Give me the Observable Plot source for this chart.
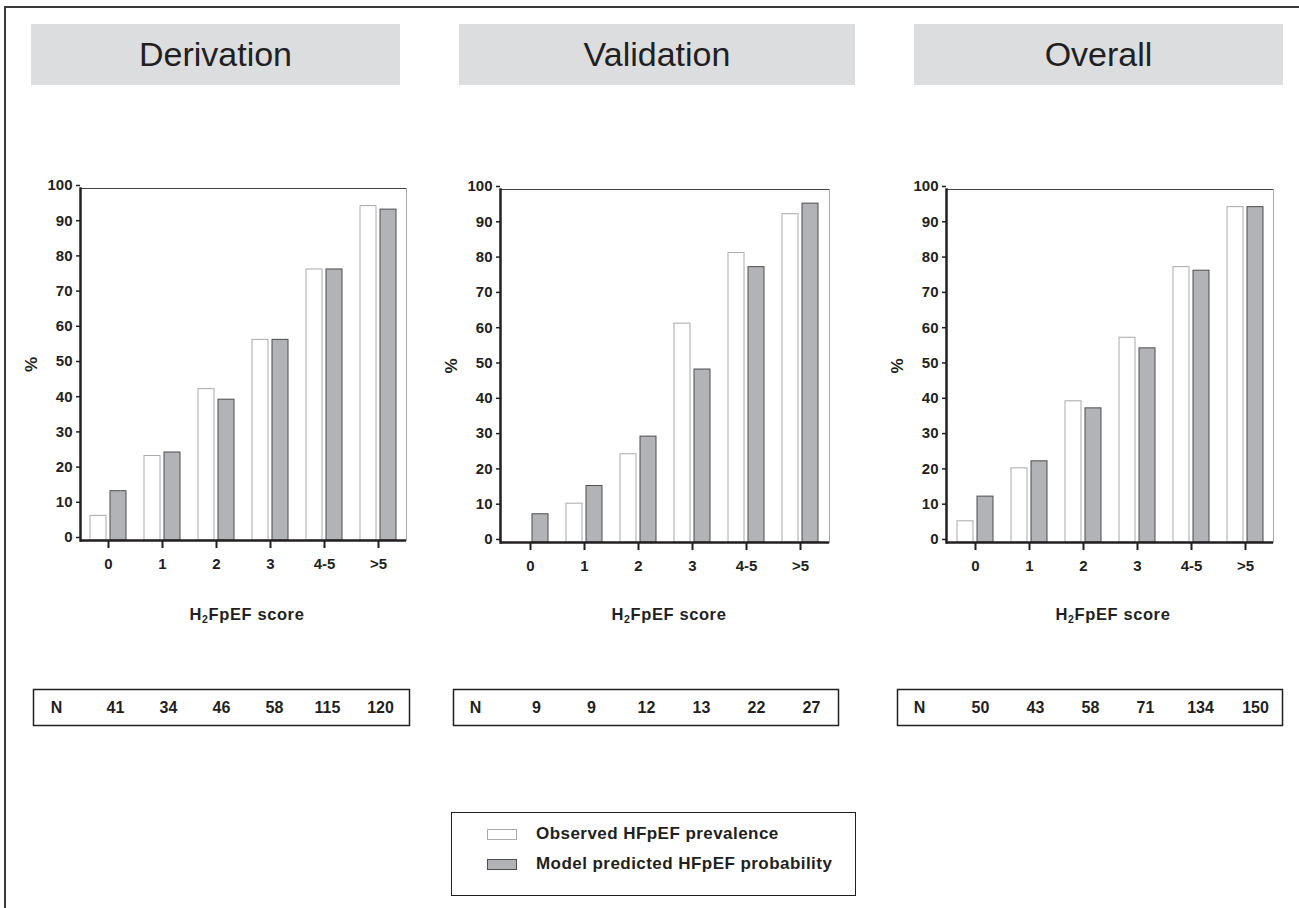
<!DOCTYPE html>
<html>
<head>
<meta charset="utf-8">
<script src="https://cdn.jsdelivr.net/npm/d3@7"></script>
<script src="https://cdn.jsdelivr.net/npm/@observablehq/plot@0.6"></script>
<style>
  html, body { margin: 0; padding: 0; background: #fff; }
  #page { position: relative; width: 1299px; height: 908px; overflow: hidden; font-family: "Liberation Sans", Arial, sans-serif; color: #231f20; }
  .abs { position: absolute; }
  .titlebox { position: absolute; top: 24px; height: 61px; background: #dcdddf; display: flex; align-items: center; justify-content: center; font-size: 34px; color: #231f20; }
  .xlabel { position: absolute; top: 605px; width: 200px; text-align: center; font-weight: bold; font-size: 16.5px; letter-spacing: 0.6px; }
  .xlabel sub { font-size: 10.5px; vertical-align: -3px; line-height: 0; }
  #legend { position: absolute; left: 451px; top: 812px; width: 405px; height: 84px; border: 1.5px solid #231f20; box-sizing: border-box; }
  .legrow { position: absolute; left: 35px; display: flex; align-items: center; font-weight: bold; font-size: 17px; letter-spacing: 0.45px; }
  .sw { width: 30px; height: 11px; margin-right: 19px; box-sizing: border-box; }
</style>
</head>
<body>
<div id="page"></div>
<script>
// ---- data ----
const panelTitles = ["Derivation", "Validation", "Overall"];
const scoreCats = ["0", "1", "2", "3", "4-5", ">5"];
const yTicks = [0, 10, 20, 30, 40, 50, 60, 70, 80, 90, 100];
const observedDerivation = [7, 24, 43, 57, 77, 95];
const predictedDerivation = [14, 25, 40, 57, 77, 94];
const observedValidation = [0, 11, 25, 62, 82, 93];
const predictedValidation = [8, 16, 30, 49, 78, 96];
const observedOverall = [6, 21, 40, 58, 78, 95];
const predictedOverall = [13, 23, 38, 55, 77, 95];
const nDerivation = [41, 34, 46, 58, 115, 120];
const nValidation = [9, 9, 12, 13, 22, 27];
const nOverall = [50, 43, 58, 71, 134, 150];
const legendLabels = ["Observed HFpEF prevalence", "Model predicted HFpEF probability"];
const xAxisTitle = "score";

const page = document.getElementById("page");
const ink = "#231f20";
const fontFam = "'Liberation Sans', Arial, sans-serif";

// outer frame (top and left lines)
const fr = document.createElement("div");
fr.className = "abs";
Object.assign(fr.style, {left: "4px", top: "6px", width: "1400px", height: "1000px", borderTop: "2px solid #3a3a3a", borderLeft: "2px solid #3a3a3a"});
page.appendChild(fr);

// layout of each panel (positions only)
const layout = [
  {box: [31, 400], svgLeft: 0, width: 430, mL: 80, mR: 24, mT: 28, mB: 40, xlab: 247, tbl: [33, 409]},
  {box: [459, 855], svgLeft: 430, width: 430, mL: 70, mR: 31, mT: 29, mB: 38, xlab: 669, tbl: [453, 838]},
  {box: [914, 1283], svgLeft: 860, width: 439, mL: 86, mR: 26, mT: 29, mB: 38, xlab: 1113, tbl: [897, 1282]}
];
const series = [
  [observedDerivation, predictedDerivation, nDerivation],
  [observedValidation, predictedValidation, nValidation],
  [observedOverall, predictedOverall, nOverall]
];

panelTitles.forEach((t, i) => {
  const L = layout[i];
  const [obs, pred, ns] = series[i];

  const tb = document.createElement("div");
  tb.className = "titlebox";
  tb.style.left = L.box[0] + "px";
  tb.style.width = (L.box[1] - L.box[0]) + "px";
  tb.textContent = t;
  page.appendChild(tb);

  const rows = scoreCats.map((c, k) => ({cat: c, obs: obs[k], pred: pred[k]}));
  const chart = Plot.plot({
    width: L.width, height: 420,
    marginLeft: L.mL, marginRight: L.mR, marginTop: L.mT, marginBottom: L.mB,
    style: {fontFamily: fontFam, fontWeight: "bold", fontSize: "15px", color: ink, background: "transparent", overflow: "visible"},
    x: {domain: scoreCats, padding: 0, label: null},
    y: {domain: [0, 100], label: null},
    marks: [
      Plot.frame({anchor: "right", stroke: "#a7a9ac", strokeWidth: 1}),
      Plot.ruleY([100], {stroke: "#444", strokeWidth: 1}),
      Plot.barY(rows, {x: "cat", y: "obs", fill: "white", stroke: "#a7a9ac", strokeWidth: 1, insetLeft: 9, insetRight: 29}),
      Plot.barY(rows, {x: "cat", y: "pred", fill: "#b1b3b6", stroke: "#4d4d4f", strokeWidth: 1, insetLeft: 29, insetRight: 9}),
      Plot.axisY({ticks: yTicks, tickSize: 4, tickPadding: 4, dy: -3, strokeWidth: 1.5, fontSize: 15, fontWeight: "bold",
                  label: "%", labelAnchor: "center", labelArrow: "none", labelOffset: 56}),
      Plot.axisX({tickSize: 8, tickPadding: 10, strokeWidth: 2, fontSize: 15, fontWeight: "bold", label: null}),
      Plot.frame({anchor: "left", stroke: ink, strokeWidth: 2.5}),
      Plot.ruleY([0], {stroke: ink, strokeWidth: 2.5})
    ]
  });
  chart.style.position = "absolute";
  chart.style.left = L.svgLeft + "px";
  chart.style.top = "160px";
  // make the "%" label a bit larger
  chart.querySelectorAll("text").forEach(el => { if (el.textContent === "%") el.setAttribute("font-size", "17"); });
  page.appendChild(chart);

  const xl = document.createElement("div");
  xl.className = "xlabel";
  xl.style.left = (L.xlab - 100) + "px";
  xl.innerHTML = "H<sub>2</sub>FpEF " + xAxisTitle;
  page.appendChild(xl);

  // N table
  const nRows = ns.map((v, k) => ({cat: scoreCats[k], n: v}));
  const tw = L.tbl[1] - L.tbl[0];
  const tbl = Plot.plot({
    width: tw, height: 36, margin: 0,
    style: {fontFamily: fontFam, fontWeight: "bold", fontSize: "16px", color: ink, background: "transparent", overflow: "visible"},
    x: {type: "point", domain: ["N", ...scoreCats], padding: 0.5, axis: null},
    marks: [
      Plot.frame({stroke: ink, strokeWidth: 1.5}),
      Plot.text(["N"], {x: d => d, frameAnchor: "middle", dx: -6, fontSize: 16, fontWeight: "bold", fill: ink}),
      Plot.text(nRows, {x: "cat", text: "n", frameAnchor: "middle", fontSize: 16, fontWeight: "bold", fill: ink})
    ]
  });
  tbl.style.position = "absolute";
  tbl.style.left = L.tbl[0] + "px";
  tbl.style.top = "689px";
  page.appendChild(tbl);
});

// legend
const leg = document.createElement("div");
leg.id = "legend";
const swatches = [
  {fill: "#ffffff", stroke: "#a7a9ac"},
  {fill: "#b1b3b6", stroke: "#4d4d4f"}
];
legendLabels.forEach((lab, k) => {
  const r = document.createElement("div");
  r.className = "legrow";
  r.style.top = (k === 0 ? 11 : 41) + "px";
  const sw = document.createElement("div");
  sw.className = "sw";
  sw.style.background = swatches[k].fill;
  sw.style.border = "1.5px solid " + swatches[k].stroke;
  const tx = document.createElement("span");
  tx.textContent = lab;
  r.appendChild(sw); r.appendChild(tx);
  leg.appendChild(r);
});
page.appendChild(leg);
</script>
</body>
</html>
